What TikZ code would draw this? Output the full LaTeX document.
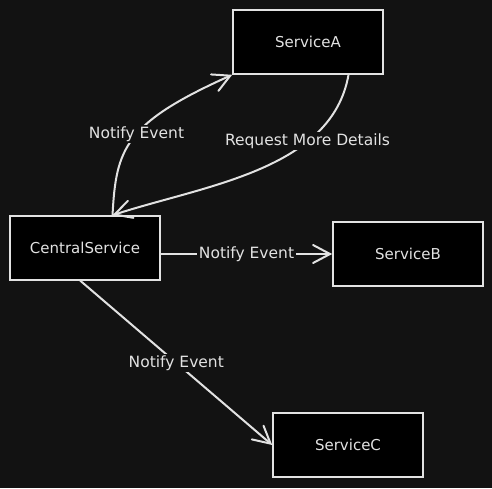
\documentclass[tikz,border=0pt]{standalone}
\usepackage{fontspec}
\setmainfont{DejaVu Sans}
\usetikzlibrary{arrows.meta}
\definecolor{bgdark}{HTML}{121212}
\definecolor{inkgray}{HTML}{E2E2E2}
\begin{document}
\begin{tikzpicture}[x=1pt,y=1pt]
\tikzset{
    service/.style={draw=inkgray, fill=black, line width=1.6pt,
        minimum width=150pt, minimum height=64pt, text=inkgray,
        font=\fontsize{15}{18}\selectfont},
    flow/.style={draw=inkgray, line width=2pt, line cap=round,
        -{Straight Barb[length=17pt,width=18pt,line cap=round]}},
    flowlabel/.style={fill=bgdark, text=inkgray, inner sep=1.5pt,
        font=\fontsize{15.5}{18}\selectfont}}

\fill[bgdark] (0,0) rectangle (492,488);
\useasboundingbox (0,0) rectangle (492,488);

\node[service] (sa) at (308,446) {ServiceA};
\node[service] (cs) at (85,240) {CentralService};
\node[service] (sb) at (408,234) {ServiceB};
\node[service] (sc) at (348,43) {ServiceC};

\draw[flow] (cs.50) .. controls (116,340) and (125,365) ..
    node[flowlabel,pos=0.53] {Notify Event} (sa.south west);
\draw[flow] (sa.-39) to[out=-100,in=18,looseness=0.9]
    node[flowlabel,pos=0.3] {Request More Details} (cs.50);
\draw[flow] (cs.east |- sb.west) --
    node[flowlabel] {Notify Event} (sb.west);
\draw[flow] (cs.-98) --
    node[flowlabel] {Notify Event} (sc.west);

\end{tikzpicture}
\end{document}
